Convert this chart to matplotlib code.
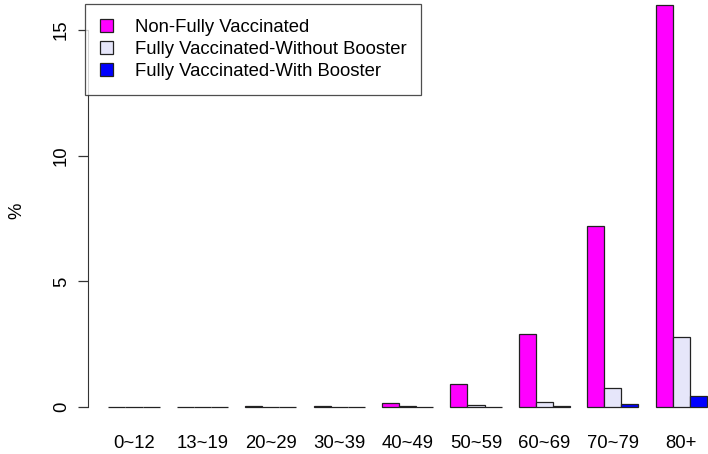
import numpy as np
from matplotlib import pyplot as plt
from matplotlib.patches import Patch

plt.rcParams['font.family'] = ['Liberation Sans', 'DejaVu Sans']

# Data
age_groups = ['0~12', '13~19', '20~29', '30~39', '40~49', '50~59', '60~69', '70~79', '80+']
non_fully = [0.0, 0.0, 0.04, 0.05, 0.15, 0.9, 2.9, 7.2, 16.0]
fully_no_booster = [0.0, 0.0, 0.0, 0.01, 0.02, 0.07, 0.2, 0.75, 2.8]
fully_booster = [0.0, 0.0, 0.0, 0.0, 0.01, 0.01, 0.04, 0.1, 0.42]
series_names = ['Non-Fully Vaccinated', 'Fully Vaccinated-Without Booster', 'Fully Vaccinated-With Booster']
colors = ['#FF00FF', '#E6E6FA', '#0000FF']

fig = plt.figure(figsize=(7.08, 4.54), dpi=100)
ax = fig.add_axes([88 / 708, 32 / 454, 620 / 708, 422 / 454])

# R style barplot: bars of width 1, one space between groups
group_start = 1 + 4 * np.arange(len(age_groups))
for k, (vals, col) in enumerate(zip([non_fully, fully_no_booster, fully_booster], colors)):
    ax.bar(group_start + k, vals, width=1, align='edge', color=col,
           edgecolor='#222222', linewidth=0.9)

ax.set_xlim(-0.19, 36.07)
ax.set_ylim(-0.6, 16.2)

for s in ['top', 'right', 'bottom']:
    ax.spines[s].set_visible(False)
ax.spines['left'].set_bounds(0, 15)
ax.spines['left'].set_color('#333333')
ax.set_yticks([0, 5, 10, 15])
ax.set_yticklabels(['0', '5', '10', '15'], rotation=90, va='center', fontsize=13.3)
ax.tick_params(axis='y', length=7, width=0.9, pad=6, color='#333333')

ax.set_xticks(group_start + 1.5)
ax.set_xticklabels(age_groups, fontsize=13.3)
ax.tick_params(axis='x', length=0, pad=9)

ax.set_ylabel('%', fontsize=13.3, labelpad=20)

handles = [Patch(facecolor=c, edgecolor='#222222', linewidth=0.9) for c in colors]
leg = ax.legend(handles, series_names, loc='upper left', bbox_to_anchor=(-0.005, 0.99),
                fontsize=13.3, frameon=True, fancybox=False, edgecolor='#222222',
                handlelength=0.7, handleheight=0.7, handletextpad=1.2,
                labelspacing=0.28, borderpad=0.8, borderaxespad=0.0)
leg.get_frame().set_linewidth(0.9)

plt.savefig('out.png', dpi=100)
